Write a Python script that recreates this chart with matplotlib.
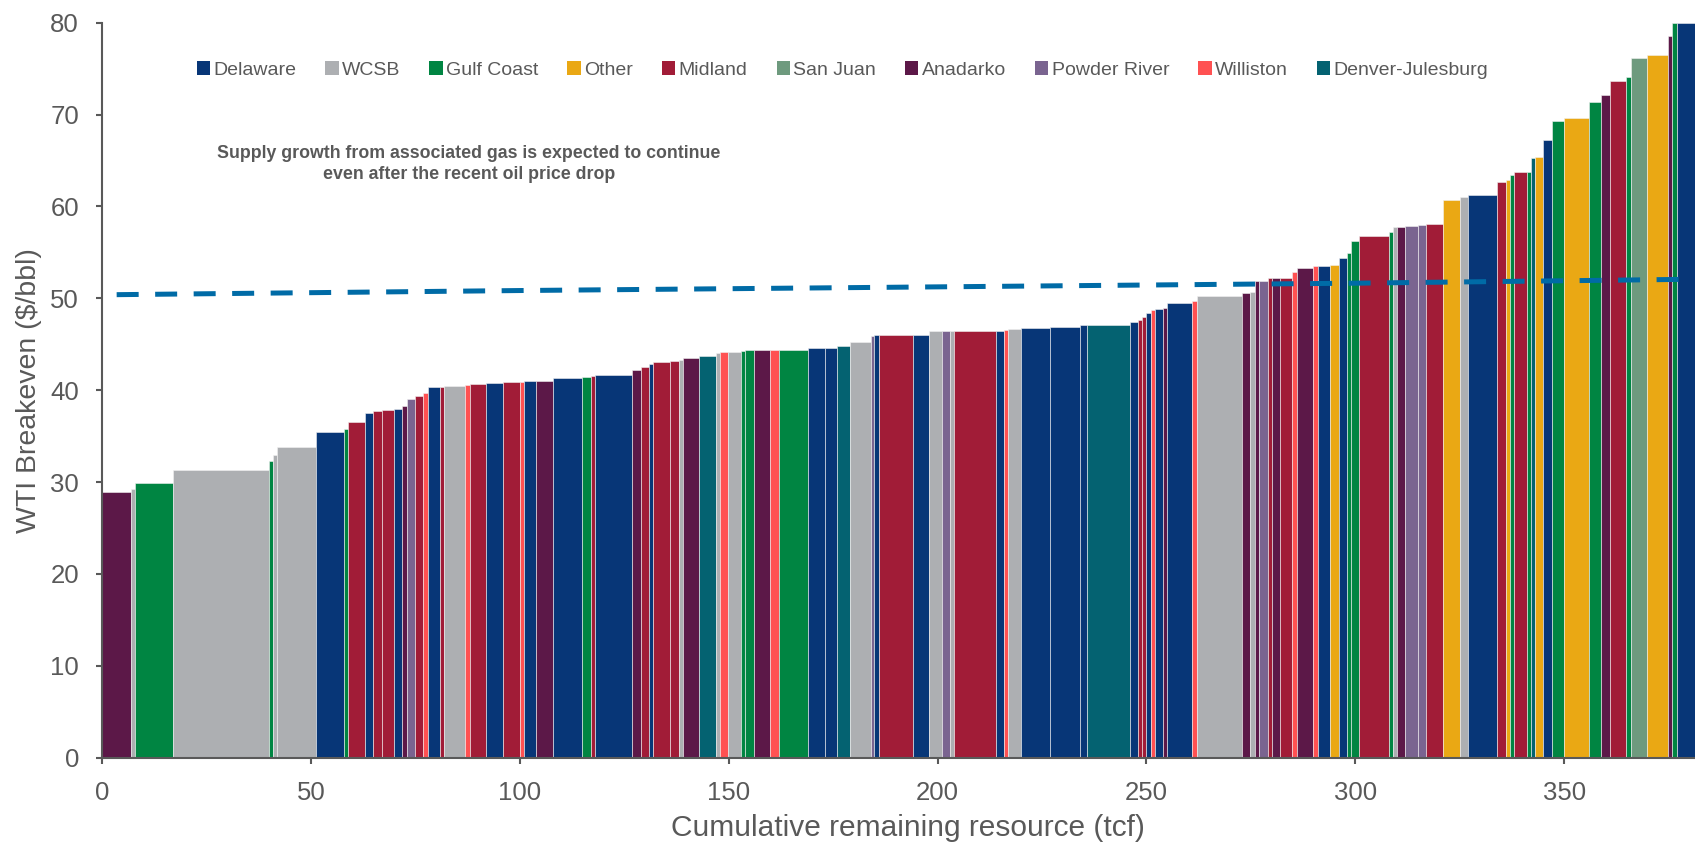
import matplotlib

matplotlib.use("Agg")
import matplotlib.pyplot as plt
import numpy as np
from matplotlib.patches import Patch

plt.rcParams["font.family"] = ["Liberation Sans", "DejaVu Sans"]

# 供給曲線：每根柱 = (寬度 tcf, 損益兩平 $/bbl, 盆地)
widths = [
    6.9, 1.1, 9.0, 23.0, 0.9, 1.0, 9.2, 6.8, 1.0, 4.1,
    1.9, 2.1, 3.0, 1.9, 1.0, 2.1, 1.9, 1.1, 3.0, 0.9,
    5.1, 1.0, 4.0, 3.9, 4.1, 1.0, 2.9, 4.1, 7.0, 2.0,
    1.1, 8.8, 2.0, 2.1, 1.0, 4.0, 2.0, 1.0, 4.0, 4.0,
    0.9, 2.0, 3.1, 1.0, 2.0, 3.9, 2.1, 6.9, 4.1, 3.0,
    3.0, 5.0, 0.9, 1.1, 8.0, 4.0, 3.0, 2.0, 0.9, 10.0,
    2.0, 1.0, 3.1, 7.0, 7.0, 1.8, 10.2, 2.0, 1.0, 1.0,
    1.0, 1.0, 2.0, 0.9, 6.1, 1.0, 10.9, 2.0, 1.1, 1.0,
    2.1, 0.9, 2.0, 2.9, 1.2, 3.8, 1.1, 2.9, 2.1, 2.0,
    1.0, 1.9, 7.1, 0.9, 1.1, 2.0, 3.0, 2.0, 4.0, 4.0,
    2.0, 7.0, 2.0, 1.0, 1.0, 3.0, 1.0, 1.0, 2.0, 2.0,
    3.0, 6.0, 2.9, 2.0, 4.0, 1.1, 3.9, 5.0, 1.0, 1.0,
    6.0,
]
breakevens = [
    28.9, 29.3, 29.9, 31.35, 32.3, 32.9, 33.8, 35.4, 35.8, 36.5,
    37.5, 37.7, 37.9, 38.0, 38.3, 39.0, 39.4, 39.7, 40.3, 40.4,
    40.5, 40.6, 40.7, 40.8, 40.9, 40.9, 40.95, 41.05, 41.3, 41.4,
    41.6, 41.7, 42.25, 42.5, 42.9, 43.1, 43.2, 43.3, 43.5, 43.7,
    44.0, 44.2, 44.2, 44.3, 44.4, 44.4, 44.4, 44.4, 44.57, 44.6,
    44.8, 45.2, 45.9, 46.0, 46.0, 46.05, 46.4, 46.4, 46.4, 46.45,
    46.5, 46.6, 46.7, 46.75, 46.9, 47.1, 47.15, 47.4, 47.65, 48.0,
    48.4, 48.7, 48.8, 49.0, 49.5, 49.75, 50.3, 50.6, 50.65, 51.85,
    51.9, 52.2, 52.25, 52.25, 52.9, 53.3, 53.5, 53.55, 53.6, 54.4,
    54.9, 56.2, 56.8, 57.2, 57.75, 57.8, 57.9, 58.0, 58.05, 60.7,
    61.05, 61.2, 62.65, 62.9, 63.45, 63.7, 63.75, 65.3, 65.35, 67.2,
    69.3, 69.6, 71.4, 72.1, 73.7, 74.1, 76.2, 76.5, 78.6, 80.0,
    80.0,
]
basins = [
    "ANA", "WCSB", "GC", "WCSB", "GC", "WCSB", "WCSB", "DEL", "GC", "MID",
    "DEL", "MID", "MID", "DEL", "ANA", "PR", "MID", "WIL", "DEL", "MID",
    "WCSB", "WIL", "MID", "DEL", "MID", "WIL", "DEL", "ANA", "DEL", "GC",
    "MID", "DEL", "ANA", "MID", "DEL", "MID", "MID", "WCSB", "ANA", "DJ",
    "WCSB", "WIL", "WCSB", "GC", "GC", "ANA", "WIL", "GC", "DEL", "DEL",
    "DJ", "WCSB", "PR", "DEL", "MID", "DEL", "WCSB", "PR", "WCSB", "MID",
    "DEL", "WIL", "WCSB", "DEL", "DEL", "DEL", "DJ", "DEL", "MID", "MID",
    "DEL", "WIL", "DEL", "ANA", "DEL", "WIL", "WCSB", "ANA", "WCSB", "ANA",
    "PR", "MID", "ANA", "MID", "WIL", "ANA", "WIL", "DEL", "OTH", "DEL",
    "GC", "GC", "MID", "GC", "WCSB", "ANA", "PR", "PR", "MID", "OTH",
    "WCSB", "DEL", "MID", "OTH", "GC", "MID", "GC", "DJ", "OTH", "DEL",
    "GC", "OTH", "GC", "ANA", "MID", "GC", "SJ", "OTH", "ANA", "GC",
    "DEL",
]

# 圖例順序與顏色
legend_keys = ["DEL", "WCSB", "GC", "OTH", "MID", "SJ", "ANA", "PR", "WIL", "DJ"]
legend_names = ["Delaware", "WCSB", "Gulf Coast", "Other", "Midland", "San Juan",
                "Anadarko", "Powder River", "Williston", "Denver-Julesburg"]
basin_colors = {
    "DEL": "#073677",
    "WCSB": "#ADAFB2",
    "GC": "#008542",
    "OTH": "#EAA814",
    "MID": "#A11C37",
    "SJ": "#6E9A7E",
    "ANA": "#5C1848",
    "PR": "#7A6490",
    "WIL": "#FF5152",
    "DJ": "#046271",
}

# WTI 價格虛線
wti_x = [3.5, 100, 200, 300, 385]
wti_y = [50.4, 50.85, 51.25, 51.65, 52.1]

TEXT = "#595959"

fig = plt.figure(figsize=(16.95, 8.44), dpi=100)
ax = fig.add_axes([0.0602, 0.1022, 0.9398, 0.8709])

lefts = np.concatenate([[0.0], np.cumsum(widths)[:-1]])
ax.bar(
    lefts,
    breakevens,
    width=widths,
    align="edge",
    color=[basin_colors[b] for b in basins],
    edgecolor="#f2f2f2",
    linewidth=0.4,
    zorder=2,
)
ax.plot(wti_x, wti_y, color="#006BA6", linewidth=3.6, dashes=(4.4, 3.3), zorder=3)

ax.set_xlim(0, 381.3)
ax.set_ylim(0, 80)
ax.set_xticks(np.arange(0, 351, 50))
ax.set_yticks(np.arange(0, 81, 10))
for side in ("top", "right"):
    ax.spines[side].set_visible(False)
for side in ("left", "bottom"):
    ax.spines[side].set_color(TEXT)
    ax.spines[side].set_linewidth(1.5)
ax.tick_params(direction="out", length=4.5, width=1.5, color=TEXT,
               labelcolor=TEXT, labelsize=18.5, pad=12)

ax.set_xlabel("Cumulative remaining resource (tcf)", fontsize=21.5, color=TEXT)
ax.xaxis.set_label_coords(0.506, -0.077)
ax.set_ylabel("WTI Breakeven ($/bbl)", fontsize=20.5, color=TEXT)
ax.yaxis.set_label_coords(-0.0377, 0.5)

ax.text(
    87.8, 64.65,
    "Supply growth from associated gas is expected to continue\n"
    "even after the recent oil price drop",
    ha="center", va="center", fontsize=12.8, fontweight="bold",
    color=TEXT, linespacing=1.3,
)

handles = [Patch(facecolor=basin_colors[k], edgecolor="none") for k in legend_keys]
fig.legend(
    handles, legend_names,
    loc="center", bbox_to_anchor=(0.497, 0.917), ncol=len(legend_names),
    frameon=False, fontsize=14, labelcolor=TEXT,
    handlelength=0.68, handleheight=0.68, handletextpad=0.17,
    columnspacing=1.5, borderaxespad=0,
)

fig.savefig("out.png", dpi=100)
plt.close(fig)
